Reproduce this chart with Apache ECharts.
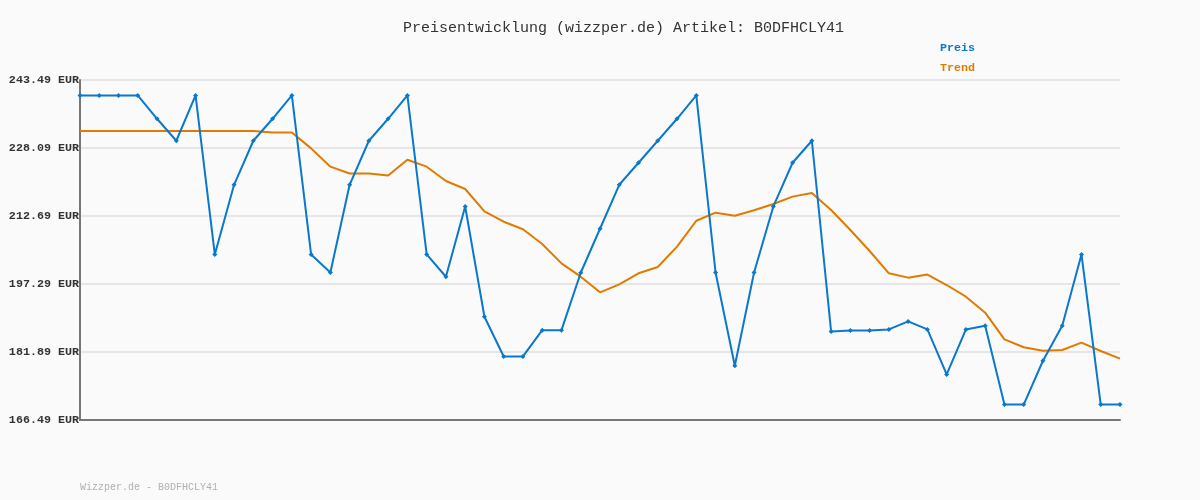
<!DOCTYPE html>
<html>
<head>
<meta charset="utf-8">
<script src="https://cdn.jsdelivr.net/npm/echarts@6/dist/echarts.min.js"></script>
<style>
html,body{margin:0;padding:0;background:#fafafa;}
#chart{width:1200px;height:500px;}
</style>
</head>
<body>
<div id="chart"></div>
<script>
const titleText = 'Preisentwicklung (wizzper.de) Artikel: B0DFHCLY41';
const footerText = 'Wizzper.de - B0DFHCLY41';
const yTicks = [166.49, 181.89, 197.29, 212.69, 228.09, 243.49];
const preis = [
  239.99, 239.99, 239.99, 239.99, 234.71, 229.73, 239.99, 203.99, 219.76, 229.73,
  234.71, 239.99, 203.99, 199.91, 219.76, 229.73, 234.71, 239.99, 203.99, 198.93,
  214.85, 189.87, 180.88, 180.88, 186.84, 186.84, 199.84, 209.80, 219.76, 224.75,
  229.73, 234.71, 239.99, 199.91, 178.77, 199.91, 214.85, 224.75, 229.73, 186.55,
  186.77, 186.77, 187.00, 188.81, 187.00, 176.81, 187.00, 187.83, 169.99, 169.99,
  179.91, 187.83, 203.99, 169.99, 169.99
];
const trend = [
  231.94, 231.94, 231.94, 231.94, 231.94, 231.94, 231.94, 231.94, 231.94, 231.94,
  231.60, 231.58, 228.00, 223.86, 222.30, 222.30, 221.84, 225.44, 223.86, 220.62,
  218.80, 213.75, 211.40, 209.68, 206.35, 201.97, 198.95, 195.41, 197.22, 199.71,
  201.14, 205.75, 211.62, 213.44, 212.76, 214.00, 215.41, 217.08, 217.90, 214.05,
  209.52, 204.76, 199.71, 198.73, 199.42, 197.06, 194.42, 190.80, 184.75, 182.96,
  182.19, 182.34, 184.00, 182.12, 180.39
];
const categories = preis.map((_, i) => String(i + 1));
const seriesNames = ['Preis', 'Trend'];
const colors = ['#0a78cc', '#e07b00'];

const chart = echarts.init(document.getElementById('chart'), null, {renderer: 'canvas'});
chart.setOption({
  backgroundColor: '#fafafa',
  animation: false,
  title: {
    text: titleText,
    left: 398,
    top: 16,
    textStyle: {fontFamily: 'Liberation Mono', fontSize: 15, fontWeight: 'normal', color: '#333'}
  },
  legend: {
    orient: 'vertical',
    left: 930,
    top: 36,
    itemGap: 7,
    itemWidth: 0,
    itemHeight: 14,
    icon: 'none',
    selectedMode: false,
    data: seriesNames.map((n, i) => ({
      name: n,
      textStyle: {color: colors[i], fontFamily: 'Liberation Mono', fontSize: 11.7, fontWeight: 'bold'}
    }))
  },
  graphic: [{
    type: 'text',
    left: 80,
    top: 482,
    style: {text: footerText, fill: '#b0b0b0', font: '10px "Liberation Mono"'}
  }],
  grid: {left: 80, right: 80, top: 80, bottom: 80, containLabel: false},
  xAxis: {
    type: 'category',
    data: categories,
    boundaryGap: false,
    axisLine: {show: true, lineStyle: {color: '#777', width: 2}},
    axisTick: {show: false},
    axisLabel: {show: false},
    splitLine: {show: false}
  },
  yAxis: {
    type: 'value',
    min: yTicks[0],
    max: yTicks[yTicks.length - 1],
    axisLine: {show: true, lineStyle: {color: '#777', width: 2}},
    axisTick: {show: false, customValues: yTicks},
    axisLabel: {
      customValues: yTicks,
      margin: 1,
      formatter: v => v.toFixed(2) + ' EUR',
      fontFamily: 'Liberation Mono',
      fontSize: 11.7,
      fontWeight: 'bold',
      color: '#333'
    },
    splitLine: {show: true, lineStyle: {color: '#e6e6e6', width: 2}}
  },
  series: [
    {
      name: seriesNames[0],
      type: 'line',
      data: preis,
      z: 3,
      symbol: 'diamond',
      symbolSize: 5,
      showSymbol: true,
      lineStyle: {color: colors[0], width: 2},
      itemStyle: {color: colors[0]}
    },
    {
      name: seriesNames[1],
      type: 'line',
      data: trend,
      z: 2,
      symbol: 'none',
      lineStyle: {color: colors[1], width: 2},
      itemStyle: {color: colors[1]}
    }
  ]
});
</script>
</body>
</html>
